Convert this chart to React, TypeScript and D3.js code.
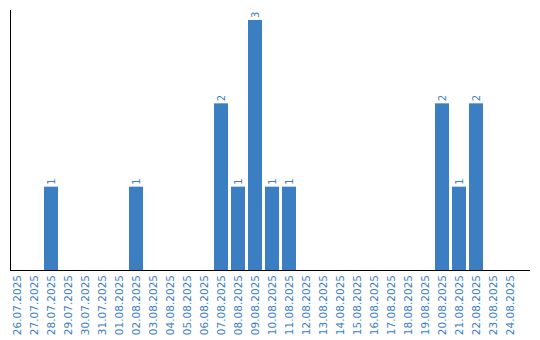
import React from "react";
import * as d3 from "d3";

const categories = [
  "26.07.2025","27.07.2025","28.07.2025","29.07.2025","30.07.2025","31.07.2025",
  "01.08.2025","02.08.2025","03.08.2025","04.08.2025","05.08.2025","06.08.2025",
  "07.08.2025","08.08.2025","09.08.2025","10.08.2025","11.08.2025","12.08.2025",
  "13.08.2025","14.08.2025","15.08.2025","16.08.2025","17.08.2025","18.08.2025",
  "19.08.2025","20.08.2025","21.08.2025","22.08.2025","23.08.2025","24.08.2025",
];
const values = [0,0,1,0,0,0,0,1,0,0,0,0,2,1,3,1,1,0,0,0,0,0,0,0,0,2,1,2,0,0];

const W = 540, H = 340;
const left = 10, baseY = 270, topY = 10;
const color = "#3b7ec2";
const font = "'DejaVu Sans', Verdana, sans-serif";

export default function App() {
  const x = d3
    .scaleBand<string>()
    .domain(categories)
    .range([left - 1.5, left - 1.5 + 17 * categories.length])
    .paddingInner(3 / 17)
    .paddingOuter(3 / 34);
  const y = d3.scaleLinear().domain([0, 3.12]).range([baseY, topY]);
  const bw = x.bandwidth();
  return (
    <svg width={W} height={H} style={{ position: "fixed", left: 0, top: 0, background: "#fff" }}>
      {categories.map((c, i) => {
        const v = values[i];
        if (!(v > 0)) return null;
        const bx = x(c) as number;
        return (
          <g key={c}>
            <rect x={bx} y={y(v)} width={bw} height={baseY - y(v)} fill={color} />
            <text
              transform={`translate(${bx + bw / 2},${y(v) - 2}) rotate(-90)`}
              dy="0.35em"
              fontFamily={font}
              fontSize={10}
              fill={color}
              textAnchor="start"
            >
              {v}
            </text>
          </g>
        );
      })}
      <line x1={left + 0.5} x2={left + 0.5} y1={topY} y2={baseY + 0.5} stroke="#000" />
      <line x1={left} x2={530} y1={baseY + 0.5} y2={baseY + 0.5} stroke="#000" />
      {categories.map((c) => (
        <text
          key={c}
          transform={`translate(${(x(c) as number) + bw / 2},${275}) rotate(-90)`}
          dy="0.35em"
          fontFamily={font}
          fontSize={10.5}
          fill={color}
          textAnchor="end"
        >
          {c}
        </text>
      ))}
    </svg>
  );
}
